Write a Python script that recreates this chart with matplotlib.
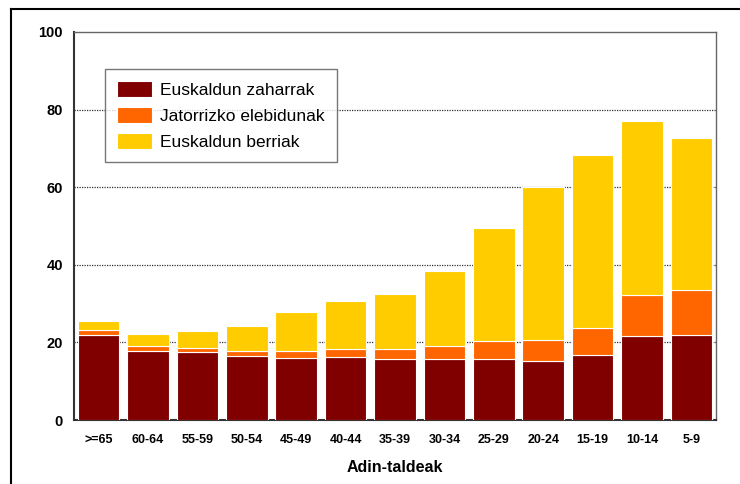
import matplotlib.pyplot as plt
from matplotlib.lines import Line2D

plt.rcParams['font.family'] = ['Liberation Sans', 'DejaVu Sans']

# age groups and the three stacked series (percent)
adinak = ['>=65', '60-64', '55-59', '50-54', '45-49', '40-44', '35-39',
          '30-34', '25-29', '20-24', '15-19', '10-14', '5-9']
zaharrak = [21.9, 17.9, 17.5, 16.6, 16.1, 16.2, 15.7, 15.7, 15.7, 15.2, 16.7, 21.6, 21.8]
elebidunak = [1.3, 1.1, 1.2, 1.3, 1.8, 2.0, 2.5, 3.5, 4.6, 5.4, 7.0, 10.6, 11.8]
berriak = [2.4, 3.2, 4.3, 6.4, 10.0, 12.5, 14.4, 19.3, 29.3, 39.5, 44.5, 44.8, 39.0]

fig = plt.figure(figsize=(7.4, 4.84), dpi=100)
ax = fig.add_axes([0.1, 0.132, 0.8676, 0.802])

x = range(len(adinak))
w = 0.84
bottom2 = [a + b for a, b in zip(zaharrak, elebidunak)]
ax.bar(x, zaharrak, w, color='#800000', edgecolor='white', linewidth=0.8,
       label='Euskaldun zaharrak', zorder=3)
ax.bar(x, elebidunak, w, bottom=zaharrak, color='#FF6600', edgecolor='white',
       linewidth=0.8, label='Jatorrizko elebidunak', zorder=3)
ax.bar(x, berriak, w, bottom=bottom2, color='#FFCC00', edgecolor='white',
       linewidth=0.8, label='Euskaldun berriak', zorder=3)

ax.set_xlim(-0.5, len(adinak) - 0.5)
ax.set_ylim(0, 100)
ax.set_yticks([0, 20, 40, 60, 80, 100])
ax.set_xticks(list(x))
ax.set_xticklabels(adinak, fontweight='bold', fontsize=9)
for t in ax.get_yticklabels():
    t.set_fontweight('bold')
    t.set_fontsize(10.5)
ax.tick_params(length=0)
ax.tick_params(axis='y', pad=8)
ax.tick_params(axis='x', pad=10)

for v in [20, 40, 60, 80]:
    ax.axhline(v, color='#303030', linestyle=(0, (1, 1)), linewidth=0.9, zorder=1)

for s in ax.spines.values():
    s.set_color('#666666')
    s.set_linewidth(1.0)
ax.spines['bottom'].set_color('#333333')
ax.spines['bottom'].set_linewidth(1.5)
ax.spines['left'].set_color('#333333')
ax.spines['left'].set_linewidth(1.5)

ax.set_xlabel('Adin-taldeak', fontweight='bold', fontsize=11.5, labelpad=10)

leg = ax.legend(loc='upper left', bbox_to_anchor=(0.048, 0.905), fontsize=12.5,
                frameon=True, fancybox=False, handlelength=2.0, handleheight=1.04,
                labelspacing=0.52, borderpad=0.7, handletextpad=0.5,
                borderaxespad=0)
leg.get_frame().set_edgecolor('#555555')
leg.get_frame().set_linewidth(1.0)

# outer frame of the picture
fig.add_artist(Line2D([0.0149, 0.0149], [0.0, 0.981], color='black', linewidth=1.5,
                      transform=fig.transFigure))
fig.add_artist(Line2D([0.0149, 1.0], [0.981, 0.981], color='black', linewidth=1.5,
                      transform=fig.transFigure))

fig.savefig('out.png', dpi=100)
